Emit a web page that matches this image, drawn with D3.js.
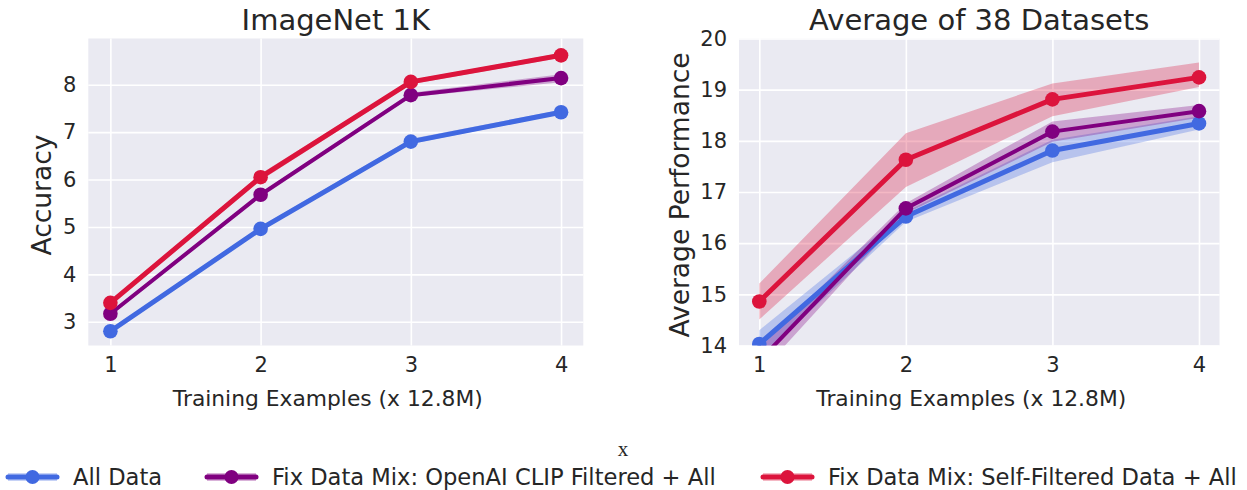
<!DOCTYPE html>
<html>
<head>
<meta charset="utf-8">
<script src="https://cdn.jsdelivr.net/npm/d3@7"></script>
<style>
  html, body { margin: 0; padding: 0; background: #ffffff; }
  svg { display: block; }
  text { font-family: "DejaVu Sans", sans-serif; fill: #262626; }
</style>
</head>
<body>
<svg id="chart" width="1247" height="490"></svg>
<script>
// ---------------- data ----------------
const steps = [1, 2, 3, 4];
const seriesNames = ["All Data", "Fix Data Mix: OpenAI CLIP Filtered + All", "Fix Data Mix: Self-Filtered Data + All"];
const seriesColors = ["#4169E1", "#800080", "#DC143C"];

// ImageNet 1K accuracy
const inAll      = [2.80, 4.96, 6.80, 7.42];
const inAllLo    = [2.76, 4.92, 6.75, 7.38];
const inAllHi    = [2.84, 5.01, 6.86, 7.47];
const inOpenAI   = [3.17, 5.68, 7.78, 8.14];
const inOpenAILo = [3.13, 5.64, 7.74, 8.05];
const inOpenAIHi = [3.21, 5.72, 7.83, 8.22];
const inSelf     = [3.40, 6.05, 8.06, 8.62];
const inSelfLo   = [3.36, 5.98, 8.01, 8.57];
const inSelfHi   = [3.44, 6.12, 8.10, 8.67];

// Average of 38 datasets
const avAll      = [14.03, 16.52, 17.81, 18.34];
const avAllLo    = [13.75, 16.42, 17.58, 18.22];
const avAllHi    = [14.30, 16.62, 18.02, 18.48];
const avOpenAI   = [13.70, 16.68, 18.18, 18.58];
const avOpenAILo = [13.45, 16.58, 17.98, 18.45];
const avOpenAIHi = [13.95, 16.78, 18.38, 18.70];
const avSelf     = [14.86, 17.63, 18.81, 19.24];
const avSelfLo   = [14.51, 17.10, 18.48, 19.05];
const avSelfHi   = [15.21, 18.15, 19.12, 19.53];

const xTicks = [1, 2, 3, 4];
const inYTicks = [3, 4, 5, 6, 7, 8];
const avYTicks = [14, 15, 16, 17, 18, 19, 20];

// ---------------- drawing ----------------
const svg = d3.select("#chart");

function panel(cfg) {
  const { id, left, right, top, bottom, xDomain, yDomain, yTicks, title, ylabel, ylabelX, series } = cfg;
  const x = d3.scaleLinear().domain(xDomain).range([left, right]);
  const y = d3.scaleLinear().domain(yDomain).range([bottom, top]);
  const g = svg.append("g");

  g.append("defs").append("clipPath").attr("id", id)
    .append("rect").attr("x", left).attr("y", top).attr("width", right - left).attr("height", bottom - top);

  g.append("rect").attr("x", left).attr("y", top).attr("width", right - left).attr("height", bottom - top)
    .attr("fill", "#EAEAF2");

  // grid
  const xAxis = d3.axisBottom(x).tickValues(xTicks).tickSize(-(bottom - top)).tickPadding(10).tickFormat(d3.format("d"));
  const gx = g.append("g").attr("transform", `translate(0,${bottom})`).call(xAxis);
  gx.select(".domain").remove();
  gx.selectAll("line").attr("stroke", "#ffffff").attr("stroke-width", 1.6);
  gx.selectAll("text").attr("font-size", 21).attr("fill", "#262626").attr("dy", "0.72em").attr("y", 11);

  const yAxis = d3.axisLeft(y).tickValues(yTicks).tickSize(-(right - left)).tickPadding(12).tickFormat(d3.format("d"));
  const gy = g.append("g").attr("transform", `translate(${left},0)`).call(yAxis);
  gy.select(".domain").remove();
  gy.selectAll("line").attr("stroke", "#ffffff").attr("stroke-width", 1.6);
  gy.selectAll("text").attr("font-size", 21).attr("fill", "#262626");

  const plot = g.append("g").attr("clip-path", `url(#${id})`);
  const area = d3.area().x((d, i) => x(steps[i])).y0(d => y(d[0])).y1(d => y(d[1]));
  const line = d3.line().x((d, i) => x(steps[i])).y(d => y(d));

  series.forEach((s, si) => {
    const band = s.lo.map((v, i) => [v, s.hi[i]]);
    plot.append("path").datum(band).attr("d", area).attr("fill", seriesColors[si]).attr("fill-opacity", 0.3);
  });
  series.forEach((s, si) => {
    plot.append("path").datum(s.mean).attr("d", line).attr("fill", "none")
      .attr("stroke", seriesColors[si]).attr("stroke-width", si === 1 ? 4 : 5)
      .attr("stroke-linejoin", "round").attr("stroke-linecap", "round");
    plot.selectAll(null).data(s.mean).enter().append("circle")
      .attr("cx", (d, i) => x(steps[i])).attr("cy", d => y(d)).attr("r", 7.3)
      .attr("fill", seriesColors[si]);
  });

  g.append("text").attr("x", (left + right) / 2).attr("y", 30).attr("text-anchor", "middle")
    .attr("font-size", 29).text(title);
  g.append("text").attr("x", (left + right) / 2 - 8).attr("y", 406).attr("text-anchor", "middle")
    .attr("font-size", 21.8).text("Training Examples (x 12.8M)");
  g.append("text").attr("transform", `translate(${ylabelX},${(top + bottom) / 2 + 3}) rotate(-90)`)
    .attr("text-anchor", "middle").attr("font-size", 26.5).text(ylabel);
}

panel({
  id: "clipA", left: 88.3, right: 583.3, top: 38.5, bottom: 345.5,
  xDomain: [0.853, 4.148], yDomain: [2.5, 8.975], yTicks: inYTicks,
  title: "ImageNet 1K", ylabel: "Accuracy", ylabelX: 51,
  series: [
    { mean: inAll, lo: inAllLo, hi: inAllHi },
    { mean: inOpenAI, lo: inOpenAILo, hi: inOpenAIHi },
    { mean: inSelf, lo: inSelfLo, hi: inSelfHi }
  ]
});

panel({
  id: "clipB", left: 739, right: 1219.5, top: 38.5, bottom: 345.5,
  xDomain: [0.8615, 4.14], yDomain: [14, 20], yTicks: avYTicks,
  title: "Average of 38 Datasets", ylabel: "Average Performance", ylabelX: 689,
  series: [
    { mean: avAll, lo: avAllLo, hi: avAllHi },
    { mean: avOpenAI, lo: avOpenAILo, hi: avOpenAIHi },
    { mean: avSelf, lo: avSelfLo, hi: avSelfHi }
  ]
});

// stray label
svg.append("text").attr("x", 623).attr("y", 456).attr("text-anchor", "middle")
  .attr("font-size", 21).style("font-family", "'Liberation Serif', serif").text("x");

// legend
const legendItems = [
  { x0: 8, x1: 57, tx: 73 },
  { x0: 207, x1: 256, tx: 272 },
  { x0: 763, x1: 812, tx: 828 }
];
const lg = svg.append("g");
legendItems.forEach((it, i) => {
  const cy = 477;
  lg.append("rect").attr("x", it.x0).attr("y", cy - 4).attr("width", it.x1 - it.x0).attr("height", 8)
    .attr("fill", seriesColors[i]).attr("fill-opacity", 0.3);
  lg.append("line").attr("x1", it.x0).attr("x2", it.x1).attr("y1", cy).attr("y2", cy)
    .attr("stroke", seriesColors[i]).attr("stroke-width", 5).attr("stroke-linecap", "round");
  lg.append("circle").attr("cx", (it.x0 + it.x1) / 2).attr("cy", cy).attr("r", 7).attr("fill", seriesColors[i]);
  lg.append("text").attr("x", it.tx).attr("y", cy + 8).attr("font-size", 22.6).text(seriesNames[i]);
});
</script>
</body>
</html>
